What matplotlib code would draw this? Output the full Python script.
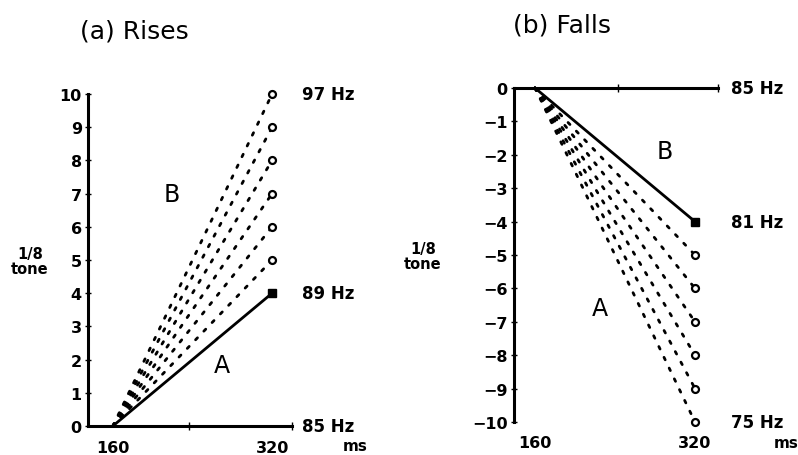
import matplotlib
matplotlib.use("Agg")
import matplotlib.pyplot as plt
import matplotlib.transforms as mtransforms
import numpy as np

# ---- data ----
time_ms = [160, 320]
rise_solid_end = 4
rise_dotted_ends = [5, 6, 7, 8, 9, 10]
fall_solid_end = -4
fall_dotted_ends = [-5, -6, -7, -8, -9, -10]
rise_yticks = list(range(0, 11))
fall_yticks = list(range(0, -11, -1))
rise_hz = [("97 Hz", 10), ("89 Hz", 4), ("85 Hz", 0)]
fall_hz = [("85 Hz", 0), ("81 Hz", -4), ("75 Hz", -10)]

plt.rcParams['font.family'] = ['DejaVu Sans']
fig = plt.figure(figsize=(7.98, 4.56), dpi=100)

axL = fig.add_axes([88/798, 1-427/456, 204/798, 332/456])
axR = fig.add_axes([514/798, 1-423/456, 204/798, 334/456])

tick_fs = 11.5
hz_fs = 12
lw_axis = 2.2

def draw(ax, solid_end, dotted_ends, yticks, xlim, ylim):
    for e in dotted_ends:
        ax.plot(time_ms, [0, e], color='black', lw=2.0, ls=(0, (1, 3.3)),
                dash_capstyle='round', clip_on=False)
        ax.plot([time_ms[1]], [e], marker='o', ms=5, mfc='white', mec='black',
                mew=1.6, clip_on=False, zorder=5)
    ax.plot(time_ms, [0, solid_end], color='black', lw=2.0, clip_on=False)
    ax.plot([time_ms[1]], [solid_end], marker='s', ms=5.5, color='black',
            clip_on=False, zorder=5)
    ax.set_xlim(*xlim)
    ax.set_ylim(*ylim)
    ax.set_yticks(yticks)
    ax.set_yticklabels([f"{v}".replace('-', '\u2212') for v in yticks],
                       fontsize=tick_fs, fontweight='bold')
    ax.tick_params(axis='y', direction='inout', length=5, width=1, pad=2)
    ax.set_xticks(time_ms)
    ax.set_xticklabels([str(t) for t in time_ms], fontsize=tick_fs,
                       fontweight='bold')
    ax.spines['right'].set_visible(False)
    ax.spines['left'].set_linewidth(lw_axis)
    ax.patch.set_visible(False)
    off = mtransforms.ScaledTranslation(-6/100, 0, fig.dpi_scale_trans)
    for lbl in ax.get_xticklabels():
        lbl.set_transform(lbl.get_transform() + off)

# Left panel: rises
draw(axL, rise_solid_end, rise_dotted_ends, rise_yticks, (135, 340), (0, 10))
axL.spines['top'].set_visible(False)
axL.spines['bottom'].set_linewidth(lw_axis)
axL.tick_params(axis='x', which='major', length=0, pad=10)
axL.set_xticks([236.6, 340], minor=True)
axL.tick_params(axis='x', which='minor', direction='inout', length=6, width=1)
fig.text(80/798, 1-32/456, "(a) Rises", fontsize=18, ha='left', va='center')
for lab, v in rise_hz:
    axL.text(350, v, lab, fontsize=hz_fs, fontweight='bold', va='center',
             ha='left', clip_on=False)
axL.text(403, -0.6, "ms", fontsize=11, fontweight='bold', ha='center',
         va='center', clip_on=False)
axL.text(219, 7.0, "B", fontsize=17, ha='center', va='center')
axL.text(270, 1.85, "A", fontsize=17, ha='center', va='center')
fig.text(30/798, 1-262/456, "1/8\ntone", fontsize=10.5, fontweight='bold',
         ha='center', va='center', linespacing=0.95)

# Right panel: falls
draw(axR, fall_solid_end, fall_dotted_ends, fall_yticks, (139, 343), (-10, 0))
axR.spines['bottom'].set_visible(False)
axR.spines['top'].set_linewidth(lw_axis)
axR.tick_params(axis='x', which='major', length=0, pad=9, bottom=True)
axR.set_xticks([242.6, 343], minor=True)
axR.tick_params(axis='x', which='minor', direction='inout', length=6, width=1,
                top=True, bottom=False)
fig.text(513/798, 1-25/456, "(b) Falls", fontsize=18, ha='left', va='center')
for lab, v in fall_hz:
    axR.text(356, v, lab, fontsize=hz_fs, fontweight='bold', va='center',
             ha='left', clip_on=False)
axR.text(411, -10.6, "ms", fontsize=11, fontweight='bold', ha='center',
         va='center', clip_on=False)
axR.text(290, -1.9, "B", fontsize=17, ha='center', va='center')
axR.text(225, -6.6, "A", fontsize=17, ha='center', va='center')
fig.text(423/798, 1-257/456, "1/8\ntone", fontsize=10.5, fontweight='bold',
         ha='center', va='center', linespacing=0.95)

fig.savefig("out.png", dpi=100)
